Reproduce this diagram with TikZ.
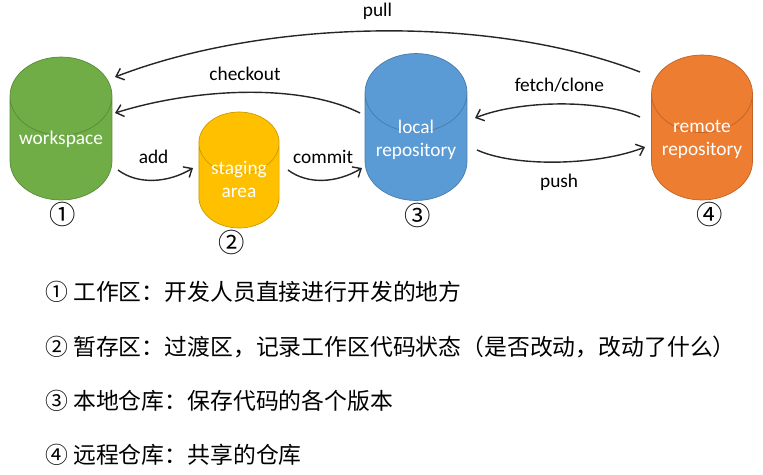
\documentclass[tikz,border=0pt]{standalone}
\usepackage{fontspec}
\setmainfont{Carlito}
\newfontfamily\cjk{Noto Sans CJK SC}
\usetikzlibrary{shapes.geometric,positioning,arrows.meta}

\definecolor{wsgreen}{HTML}{70AD47}
\definecolor{stgyellow}{HTML}{FFC000}
\definecolor{locblue}{HTML}{5B9BD5}
\definecolor{remorange}{HTML}{ED7D31}
\definecolor{arrowgray}{HTML}{262626}

\tikzset{
	db/.style={cylinder, shape border rotate=90, aspect=0.77, draw=#1!80!black,
		fill=#1, anchor=shape center},
	dbtext/.style={text=white, align=center, font=\fontsize{11}{13}\selectfont},
	flow/.style={arrowgray, line width=0.8pt, -{Straight Barb[length=4pt,width=7pt]}},
	lbl/.style={text=black, font=\fontsize{11}{13}\selectfont},
	num/.style={inner sep=0pt, font=\cjk\fontsize{15}{15}\selectfont},
	note/.style={anchor=west, inner sep=0pt, font=\cjk\fontsize{13}{14}\selectfont}
}

\begin{document}
\begin{tikzpicture}[x=0.02cm,y=-0.02cm]
	\useasboundingbox (0,0) rectangle (763,474);
	
	% the four storage areas
	\node[db=wsgreen, text width=1.8cm, minimum width=2.04cm, minimum height=2.86cm] (workspace) at (61,128.5) {};
	\node[db=stgyellow, text width=1.37cm, minimum width=1.6cm, minimum height=2.32cm] (staging) at (239,170) {};
	\node[db=locblue, text width=1.8cm, minimum width=2.04cm, minimum height=2.94cm] (local) at (416,127) {};
	\node[db=remorange, text width=1.78cm, minimum width=2.02cm, minimum height=2.9cm] (remote) at (702,127.5) {};
	
	\node[dbtext] (workspace-txt) at ([yshift=-0.21cm]workspace.shape center) {workspace};
	\node[dbtext] (staging-txt) at ([yshift=-0.19cm]staging.shape center) {staging\\area};
	\node[dbtext] (local-txt) at ([yshift=-0.25cm]local.shape center) {local\\repository};
	\node[dbtext] (remote-txt) at ([yshift=-0.24cm]remote.shape center) {remote\\repository};
	
	\node[num, below=0.04cm of workspace, xshift=0.04cm] (n1) {①};
	\node[num, below=0.04cm of staging, xshift=-0.14cm] (n2) {②};
	\node[num, below=0.04cm of local, xshift=0.04cm] (n3) {③};
	\node[num, below=0.04cm of remote, xshift=0.16cm] (n4) {④};
	
	% git commands
	\draw[flow] ([shift={(-62,-55.5)}]remote.shape center) .. controls +(-150,-58) and +(150,-58) .. ([shift={(54,-51.5)}]workspace.shape center) node[lbl, midway, above=2.5pt] {pull};
	\draw[flow] ([shift={(-56,-14)}]local.shape center) .. controls +(-60,-30) and +(80,-25) .. ([shift={(54,-15.5)}]workspace.shape center) node[lbl, midway, above=3pt] {checkout};
	\draw[flow] ([shift={(57,41.5)}]workspace.shape center) .. controls +(20,15) and +(-25,15) .. ([shift={(-46,-2)}]staging.shape center) node[lbl, midway, above=6pt] {add};
	\draw[flow] ([shift={(49,0)}]staging.shape center) .. controls +(20,15) and +(-25,15) .. ([shift={(-54,41)}]local.shape center) node[lbl, midway, above=6pt] {commit};
	\draw[flow] ([shift={(-62,-10.5)}]remote.shape center) .. controls +(-40,-18) and +(45,-18) .. ([shift={(59,-9)}]local.shape center) node[lbl, midway, above=3pt] {fetch/clone};
	\draw[flow] ([shift={(61,23)}]local.shape center) .. controls +(40,18) and +(-45,18) .. ([shift={(-57,19.5)}]remote.shape center) node[lbl, midway, below=3pt] {push};
	
	% legend
	\foreach \txt [count=\i] in {① 工作区：开发人员直接进行开发的地方,
		② 暂存区：过渡区，记录工作区代码状态（是否改动，改动了什么）,
		③ 本地仓库：保存代码的各个版本,
		④ 远程仓库：共享的仓库}
	\node[note] (note\i) at (45,{238+54.3*\i}) {\txt};
\end{tikzpicture}
\end{document}
